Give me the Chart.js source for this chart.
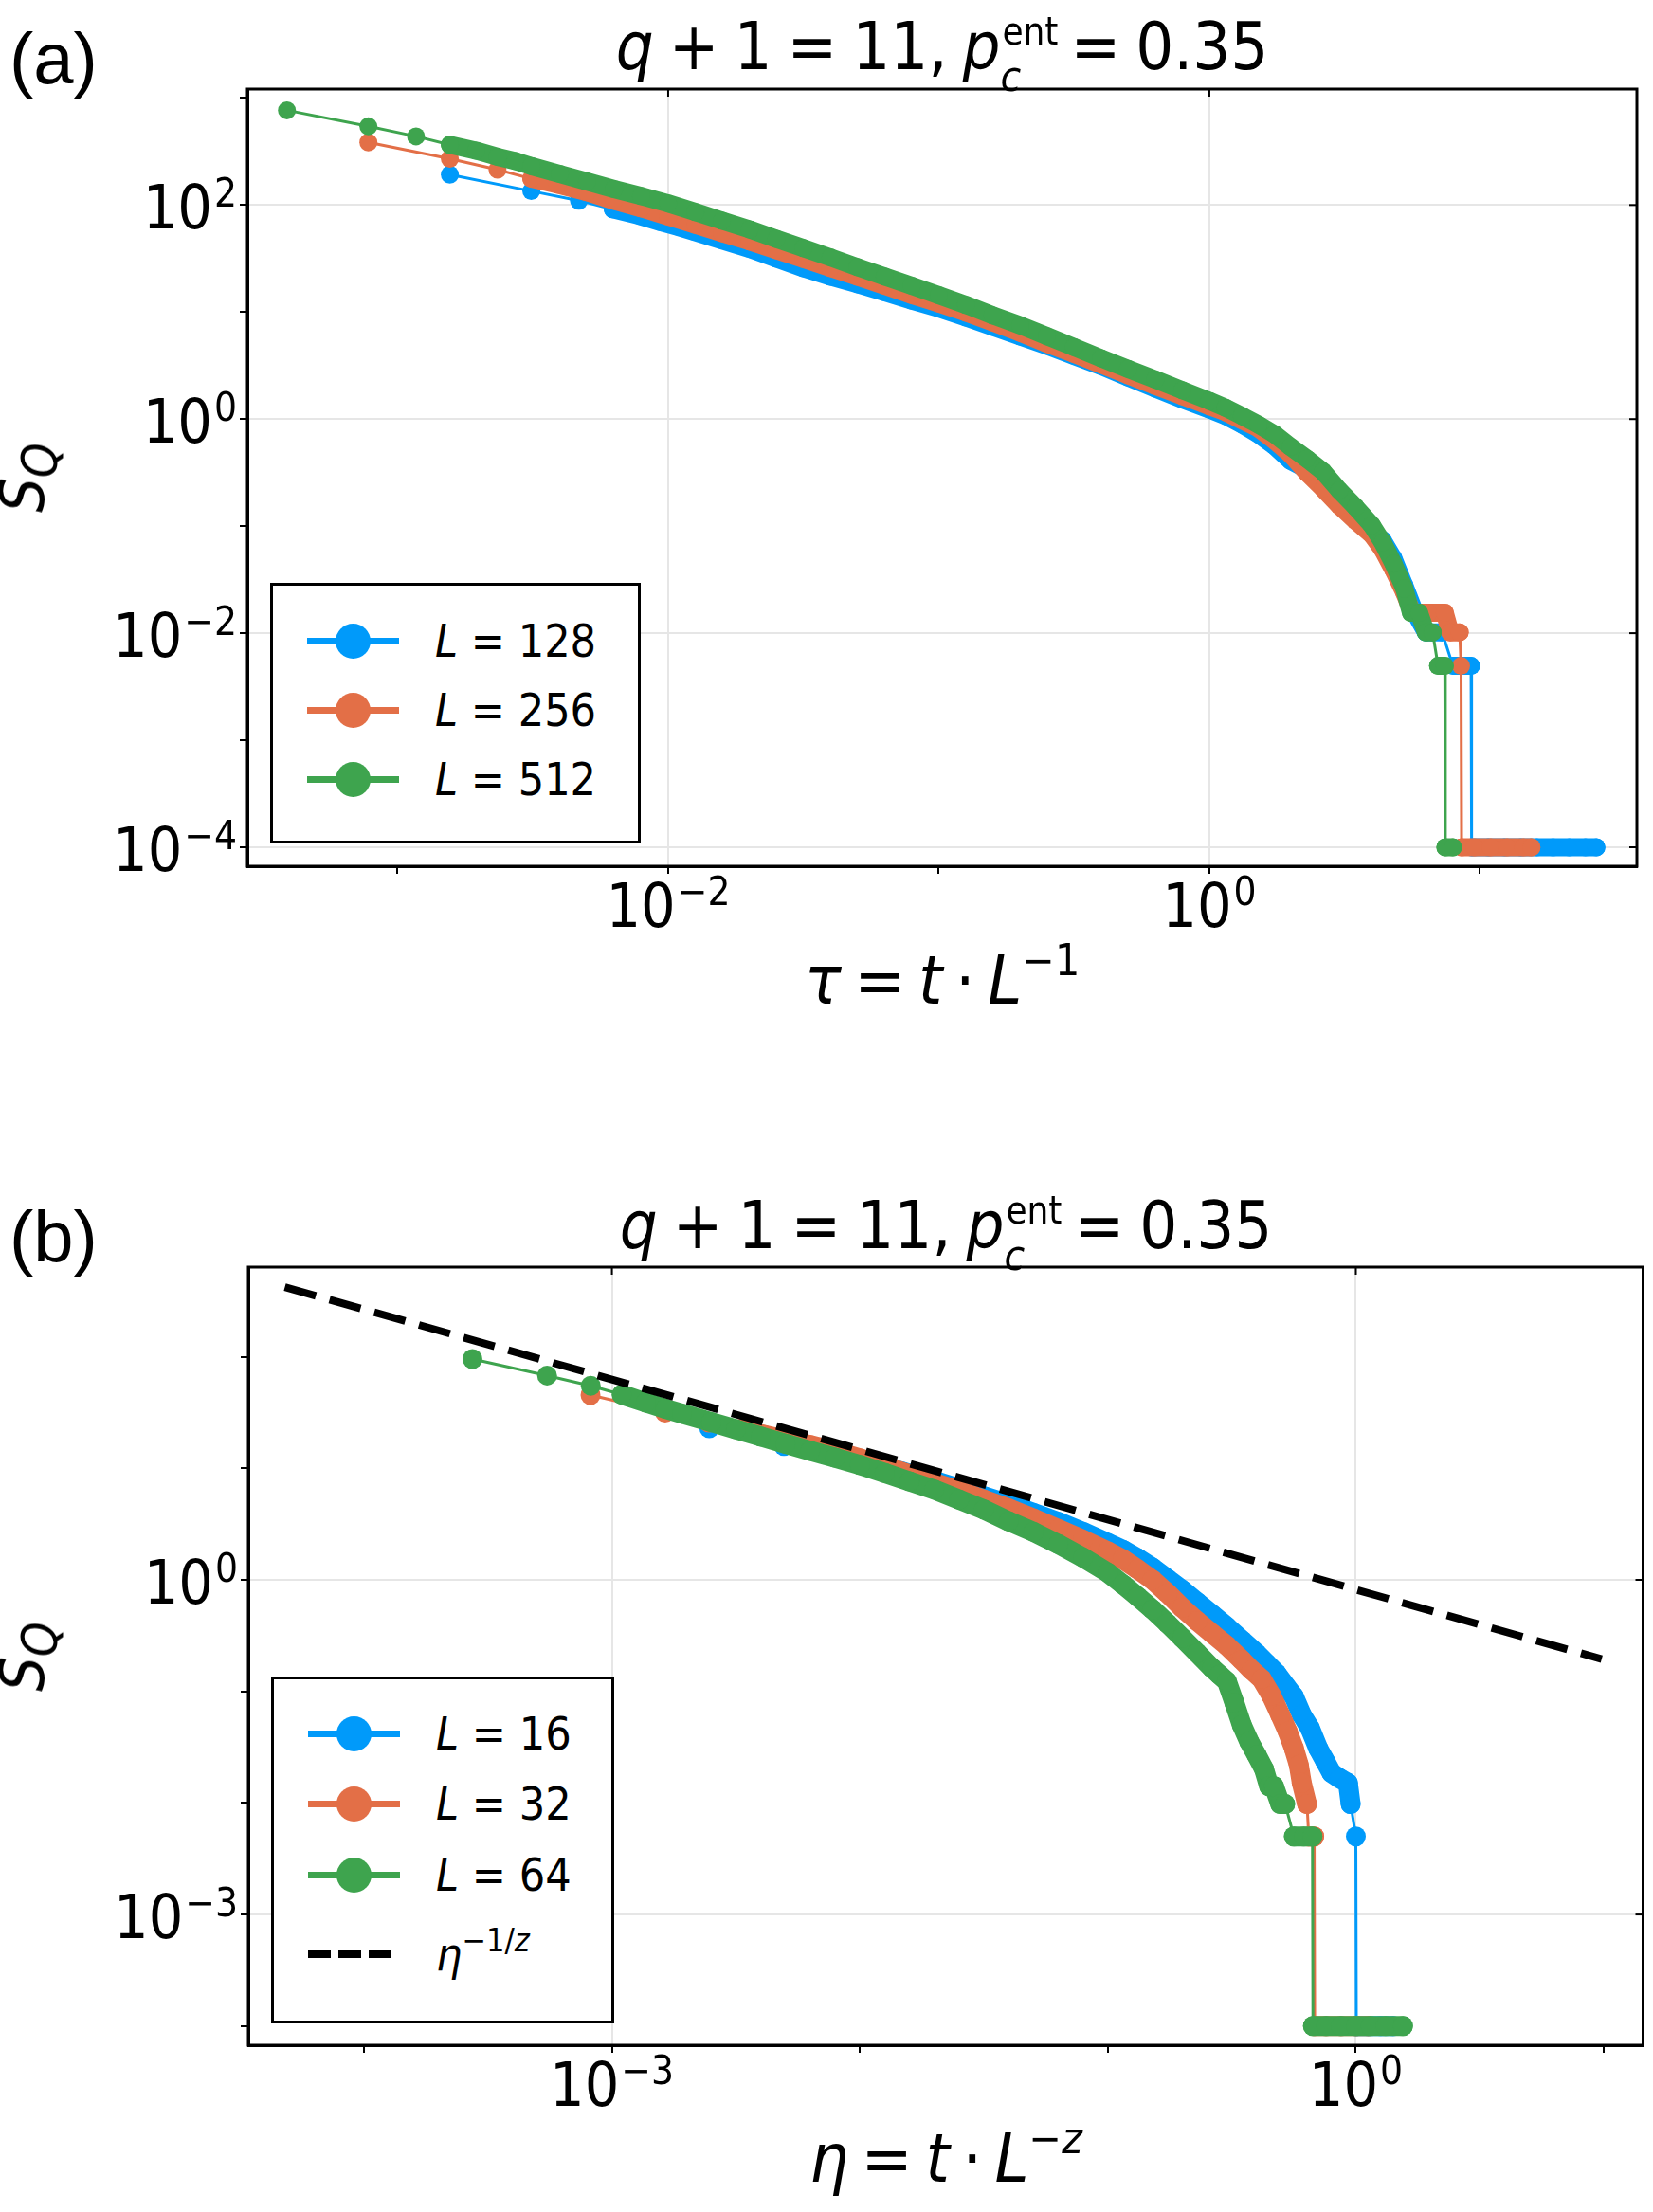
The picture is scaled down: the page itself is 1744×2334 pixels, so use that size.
<!DOCTYPE html>
<html>
<head>
<meta charset="utf-8">
<script src="https://cdn.jsdelivr.net/npm/chart.js@4.4.1/dist/chart.umd.min.js"></script>
<style>
html, body { margin: 0; padding: 0; background: #fff; }
body { position: relative; width: 1744px; height: 2334px; overflow: hidden;
       font-family: "DejaVu Sans Condensed", "DejaVu Sans", sans-serif; color: #000; }
canvas { position: absolute; left: 0; }
#chartA { top: 0; }
#chartB { top: 1117px; }
.t { position: absolute; white-space: nowrap; line-height: 1; }
.panel { font-family: "Liberation Sans", Arial, sans-serif; font-size: 76px; }
.title { font-size: 70px; word-spacing: -4px; transform: translateX(-50%); }
.xlab { font-size: 72px; word-spacing: -7px; transform: translateX(-50%); }
.ylab { font-size: 64px; transform: translate(-50%, -50%) rotate(-90deg); }
.ylab sub { font-size: 52px; vertical-align: -14px; }
.sup { font-size: 46px; position: relative; top: -30px; }
.tk { font-size: 64px; }
.tk .e { font-size: 42px; position: relative; top: -23px; margin-left: 2px; }
.ss { display: inline-block; position: relative; width: 58px; height: 0; }
.ss .up { position: absolute; left: 2px; bottom: 20px; font-size: 40px; }
.ss .dn { position: absolute; left: 0; top: -14px; font-size: 44px; }
.leg { position: absolute; border: 3px solid #000; background: #fff; box-sizing: border-box; }
.item { position: absolute; left: 0; height: 0; }
.item .ln { position: absolute; left: 36px; width: 97px; height: 7px; top: -3.5px; }
.item .dot { position: absolute; left: 66px; width: 37px; height: 37px; top: -18.5px; border-radius: 50%; }
.item .lab { position: absolute; left: 171px; top: -24px; font-size: 48px; line-height: 48px; white-space: nowrap; }
.item .dash { position: absolute; left: 36px; width: 88px; height: 8px; top: -4px;
  background: repeating-linear-gradient(90deg, #000 0 24px, transparent 24px 32px); }
.item .lab .s2 { font-size: 34px; position: relative; top: -20px; }
</style>
</head>
<body>
<canvas id="chartA" width="1744" height="1117"></canvas>
<canvas id="chartB" width="1744" height="1217"></canvas>

<div class="t panel" style="left:10px; top:24px;">(a)</div>
<div class="t title" style="left:994px; top:14px;"><i>q</i> + 1 = 11, <i>p</i><span class="ss"><span class="up">ent</span><span class="dn"><i>c</i></span></span> = 0.35</div>
<div class="t xlab" style="left:994px; top:998px;"><i>τ</i> = <i>t</i> · <i>L</i><span class="sup">−1</span></div>
<div class="t ylab" style="left:30px; top:504px;"><i>S</i><sub><i>Q</i></sub></div>

<div class="t panel" style="left:10px; top:1267px;">(b)</div>
<div class="t title" style="left:998px; top:1258px;"><i>q</i> + 1 = 11, <i>p</i><span class="ss"><span class="up">ent</span><span class="dn"><i>c</i></span></span> = 0.35</div>
<div class="t xlab" style="left:998px; top:2241px;"><i>η</i> = <i>t</i> · <i>L</i><span class="sup">−<i>z</i></span></div>
<div class="t ylab" style="left:30px; top:1748px;"><i>S</i><sub><i>Q</i></sub></div>

<div class="leg" id="legA" style="left:285px; top:615px; width:391px; height:275px;"></div>
<div class="leg" id="legB" style="left:286px; top:1769px; width:362px; height:366px;"></div>

<script>
// ---- panel (a): tau = t * L^-1 ----
const sizesA = [128, 256, 512];

const tauA128 = [1.56e-3, 3.12e-3, 4.68e-3, 6.24e-3, 7.8e-3, 9.36e-3, 0.01092, 0.01248,
  0.0158, 0.02, 0.0251, 0.0316, 0.0398, 0.0501, 0.0631, 0.0794, 0.1, 0.126, 0.158, 0.2,
  0.251, 0.316, 0.398, 0.501, 0.631, 0.794,
  1, 1.148, 1.318, 1.514, 1.738, 1.995,
  2.291, 2.63, 3.02, 3.467, 3.981, 4.365, 4.786, 5.248,
  5.754, 6.31, 7.244, 7.943, 8.71, 9.268, 9.311, 10.72, 12.3, 14.13, 16.22, 18.62, 21.38, 24.55, 26.92];
const sqA128 = [192, 135, 110, 91.2, 79.4, 69.2, 62.2, 56.2,
  46.8, 38.9, 31.6, 25.7, 21.4, 18.2, 15.3, 12.8, 10.8, 8.91, 7.28, 5.93,
  4.84, 3.89, 3.13, 2.455, 1.928, 1.531,
  1.230, 1.072, 0.891, 0.724, 0.562, 0.407,
  0.339, 0.263, 0.186, 0.126, 0.0871, 0.0741, 0.0501, 0.0282,
  0.0155, 0.0102, 0.0102, 0.00495, 0.00495, 0.00495, 1e-4, 1e-4, 1e-4, 1e-4, 1e-4, 1e-4, 1e-4, 1e-4, 1e-4];

const tauA256 = [7.8e-4, 1.56e-3, 2.34e-3, 3.12e-3, 3.9e-3,
  5.01e-3, 6.31e-3, 7.94e-3, 0.01, 0.0126, 0.0158, 0.02, 0.0251, 0.0316, 0.0398, 0.0501,
  0.0631, 0.0794, 0.1, 0.126, 0.158, 0.2, 0.251, 0.316, 0.398, 0.501, 0.631, 0.794,
  1, 1.148, 1.318, 1.514, 1.738, 1.995,
  2.291, 2.63, 3.02, 3.467, 3.981, 4.365, 4.786, 5.248,
  5.623, 6.457, 7.413, 7.762, 8.414, 8.511, 8.551, 9.55, 10.96, 12.59, 14.45, 15.49];
const sqA256 = [384, 271, 214, 176, 155,
  131.8, 109.6, 93.3, 78.0, 65.3, 54.7, 45.7, 37.8, 31.3, 25.8, 21.4,
  17.6, 14.45, 12.02, 9.89, 8.04, 6.40, 5.07, 4.06, 3.24, 2.57, 2.04, 1.64,
  1.318, 1.161, 0.977, 0.822, 0.631, 0.468,
  0.316, 0.224, 0.155, 0.112, 0.0832, 0.0603, 0.0389, 0.024,
  0.0155, 0.0155, 0.0155, 0.0102, 0.0102, 0.00495, 1e-4, 1e-4, 1e-4, 1e-4, 1e-4, 1e-4];

const tauA512 = [3.9e-4, 7.8e-4, 1.17e-3, 1.56e-3, 1.95e-3, 2.34e-3, 2.73e-3, 3.12e-3,
  3.98e-3, 5.01e-3, 6.31e-3, 7.94e-3, 0.01, 0.0126, 0.0158, 0.02, 0.0251, 0.0316, 0.0398, 0.0501,
  0.0631, 0.0794, 0.1, 0.126, 0.158, 0.2, 0.251, 0.316, 0.398, 0.501, 0.631, 0.794,
  1, 1.148, 1.318, 1.514, 1.738, 1.995,
  2.291, 2.63, 3.02, 3.467, 3.981, 4.365, 4.786, 5.248,
  5.559, 5.957, 6.31, 6.683, 6.998, 7.413, 7.447, 7.943];
const sqA512 = [767, 543, 438, 365, 322, 282, 257, 231,
  195, 166, 141, 121.6, 103.5, 86.1, 71.6, 59.3, 48.4, 39.6, 32.4, 26.3,
  21.5, 17.6, 14.35, 11.67, 9.33, 7.53, 5.96, 4.70, 3.70, 2.94, 2.344, 1.862,
  1.479, 1.274, 1.072, 0.891, 0.724, 0.55,
  0.427, 0.324, 0.216, 0.151, 0.102, 0.0708, 0.0447, 0.0263,
  0.0155, 0.0155, 0.0102, 0.0102, 0.00495, 0.00495, 1e-4, 1e-4];

// ---- panel (b): eta = t * L^-z ----
const sizesB = [16, 32, 64];

const etaB16 = [2.47e-3, 4.94e-3, 7.41e-3, 9.88e-3, 0.01235, 0.01482, 0.01729,
  0.01995, 0.02512, 0.03162, 0.03981, 0.05012, 0.0631, 0.07943, 0.1,
  0.1148, 0.1318, 0.1514, 0.1738, 0.1995, 0.2291, 0.263, 0.302, 0.3467, 0.3981, 0.4365, 0.4786,
  0.5248, 0.5623, 0.6053, 0.6531, 0.7047, 0.7499, 0.798, 0.861, 0.929, 0.9528, 1.0, 1.0046,
  1.122, 1.259, 1.413];
const sqB16 = [22.9, 15.85, 13.49, 11.75, 10.47, 9.33, 8.51,
  7.76, 6.61, 5.62, 4.79, 3.98, 3.31, 2.69, 2.14,
  1.862, 1.567, 1.288, 1.023, 0.813, 0.631, 0.49, 0.38, 0.288, 0.219, 0.178, 0.145,
  0.11, 0.0902, 0.0617, 0.0468, 0.0309, 0.024, 0.0186, 0.0166, 0.0151, 0.00977, 0.00501, 1e-4,
  1e-4, 1e-4, 1e-4];

const etaB32 = [8.2e-4, 1.64e-3, 2.46e-3, 3.28e-3, 4.1e-3, 4.92e-3,
  6.31e-3, 7.943e-3, 0.01, 0.01259, 0.01585, 0.01995, 0.02512, 0.03162, 0.03981, 0.05012, 0.0631, 0.07943, 0.1,
  0.1148, 0.1318, 0.1514, 0.1738, 0.1995, 0.2291, 0.263, 0.302, 0.3467, 0.3802, 0.4169, 0.4571,
  0.4955, 0.5309, 0.5623, 0.5888, 0.6053, 0.6353, 0.6457, 0.6792, 0.6823, 0.7586, 0.871, 1, 1.122];
const sqB32 = [45.4, 31.6, 25.7, 22.4, 19.95, 18.2,
  16.2, 14.29, 12.3, 10.47, 8.81, 7.41, 6.31, 5.25, 4.37, 3.55, 2.85, 2.29, 1.80,
  1.531, 1.245, 1.0, 0.759, 0.562, 0.427, 0.331, 0.257, 0.191, 0.155, 0.129, 0.0912,
  0.0617, 0.0437, 0.0309, 0.0219, 0.0151, 0.00977, 0.00501, 0.00501, 1e-4, 1e-4, 1e-4, 1e-4, 1e-4];

const etaB64 = [2.74e-4, 5.48e-4, 8.22e-4, 1.096e-3, 1.37e-3, 1.644e-3, 1.918e-3,
  2.512e-3, 3.162e-3, 3.981e-3, 5.012e-3, 6.31e-3, 7.943e-3, 0.01, 0.01259, 0.01585, 0.01995,
  0.02512, 0.03162, 0.03981, 0.05012, 0.0631, 0.07943,
  0.1, 0.1148, 0.1318, 0.1514, 0.1738, 0.1995, 0.2291, 0.263, 0.2818, 0.302, 0.3236, 0.3467,
  0.3715, 0.3981, 0.4266,
  0.4467, 0.4677, 0.4955, 0.5188, 0.5623, 0.6166, 0.6683, 0.6714, 0.7586, 0.871, 1, 1.148, 1.318, 1.549];
const sqB64 = [95.5, 67.9, 55.0, 45.9, 38.9, 34.2, 30.9,
  26.0, 22.4, 19.3, 16.6, 14.35, 12.45, 10.72, 9.08, 7.64, 6.46,
  5.25, 4.27, 3.35, 2.69, 2.09, 1.585,
  1.161, 0.912, 0.708, 0.543, 0.407, 0.302, 0.221, 0.162, 0.141, 0.123, 0.0794, 0.0501,
  0.0355, 0.0269, 0.02,
  0.0141, 0.0141, 0.00977, 0.00977, 0.00501, 0.00501, 0.00501, 1e-4, 1e-4, 1e-4, 1e-4, 1e-4, 1e-4, 1e-4];

// power law guide eta^(-1/z)
const etaFit = [4.8e-5, 9.8];
const sqFit = [422, 0.195];

// ---- axis ticks (labelled decades + unlabelled minor decades) ----
const xMajorA = [1e-2, 1], xExpA = ['−2', '0'], xMinorA = [1e-3, 1e-1, 10];
const yMajorA = [1e-4, 1e-2, 1, 1e2], yExpA = ['−4', '−2', '0', '2'], yMinorA = [1e-3, 1e-1, 10, 1e3];
const xMajorB = [1e-3, 1], xExpB = ['−3', '0'], xMinorB = [1e-4, 1e-2, 1e-1, 10];
const yMajorB = [1e-3, 1], yExpB = ['−3', '0'], yMinorB = [1e-4, 1e-2, 1e-1, 10, 100];

const BLUE = '#009AFA', ORANGE = '#E36F47', GREEN = '#3EA44E';
const COLORS = [BLUE, ORANGE, GREEN];

function pts(xs, ys) {
  return xs.map((x, i) => ({ x: x, y: ys[i] }));
}

function near(a, b) { return Math.abs(Math.log10(a) - Math.log10(b)) < 1e-6; }

function series(xs, ys, color, order, radius) {
  return {
    data: pts(xs, ys),
    borderColor: color,
    backgroundColor: color,
    pointBackgroundColor: color,
    pointBorderColor: color,
    pointBorderWidth: 0,
    pointRadius: radius,
    pointHoverRadius: radius,
    borderWidth: 3,
    borderJoinStyle: 'round',
    borderCapStyle: 'round',
    order: order,
    // markers closer together than their size merge into a band
    segment: {
      borderWidth: ctx => Math.hypot(ctx.p1.x - ctx.p0.x, ctx.p1.y - ctx.p0.y) < 33 ? radius * 2 : 3
    }
  };
}

function logAxis(min, max, major, minor, isX, size) {
  const all = major.concat(minor).sort((a, b) => a - b);
  return {
    type: 'logarithmic',
    min: min, max: max,
    afterBuildTicks: s => { s.ticks = all.map(v => ({ value: v })); },
    afterFit: s => { if (isX) s.height = size; else s.width = size; },
    ticks: { autoSkip: false, maxRotation: 0, minRotation: 0, callback: () => '' },
    grid: {
      color: c => major.some(m => near(m, c.tick.value)) ? '#e6e6e6' : 'rgba(0,0,0,0)',
      lineWidth: 2,
      tickColor: '#000',
      tickLength: 8,
      drawTicks: true
    },
    border: { display: true, color: '#000', width: 3 }
  };
}

// closing frame plus short inward ticks on the top and right edges
const framePlugin = {
  id: 'frame',
  afterDatasetsDraw(chart, args, opts) {
    const { ctx, chartArea: a, scales } = chart;
    ctx.save();
    ctx.strokeStyle = '#000';
    ctx.lineWidth = 3;
    ctx.strokeRect(a.left, a.top, a.right - a.left, a.bottom - a.top);
    ctx.lineWidth = 2;
    opts.yMajor.forEach(v => {
      const y = scales.y.getPixelForValue(v);
      ctx.beginPath(); ctx.moveTo(a.right, y); ctx.lineTo(a.right - 8, y); ctx.stroke();
    });
    opts.xMajor.forEach(v => {
      const x = scales.x.getPixelForValue(v);
      ctx.beginPath(); ctx.moveTo(x, a.top); ctx.lineTo(x, a.top + 8); ctx.stroke();
    });
    ctx.restore();
  }
};

function makeChart(id, datasets, pad, xAxis, yAxis, xMajor, yMajor) {
  return new Chart(document.getElementById(id), {
    type: 'line',
    data: { datasets: datasets },
    options: {
      responsive: false,
      animation: false,
      devicePixelRatio: 1,
      layout: { padding: pad },
      plugins: {
        legend: { display: false },
        tooltip: { enabled: false },
        frame: { xMajor: xMajor, yMajor: yMajor }
      },
      scales: { x: xAxis, y: yAxis }
    },
    plugins: [framePlugin]
  });
}

// tick labels as text placed from the chart's own scales
function tickLabels(chart, top, axis, vals, exps) {
  const s = chart.scales[axis], a = chart.chartArea;
  vals.forEach((v, i) => {
    const d = document.createElement('div');
    d.className = 't tk';
    d.innerHTML = '10<span class="e">' + exps[i] + '</span>';
    if (axis === 'x') {
      d.style.left = s.getPixelForValue(v) + 'px';
      d.style.top = (top + a.bottom + 10) + 'px';
      d.style.transform = 'translateX(-50%)';
    } else {
      d.style.right = (1744 - a.left + 11) + 'px';
      d.style.top = (top + s.getPixelForValue(v) - 29) + 'px';
    }
    document.body.appendChild(d);
  });
}

const chartA = makeChart('chartA', [
  series(tauA128, sqA128, BLUE, 3, 9.5),
  series(tauA256, sqA256, ORANGE, 2, 9.5),
  series(tauA512, sqA512, GREEN, 1, 9.5)
], { left: 0, right: 17, top: 94, bottom: 103 },
  logAxis(2.786e-4, 38.0, xMajorA, xMinorA, true, 100),
  logAxis(6.65e-5, 1211, yMajorA, yMinorA, false, 261), xMajorA, yMajorA);

const chartB = makeChart('chartB', [
  {
    data: pts(etaFit, sqFit), borderColor: '#000', borderWidth: 8, borderDash: [34, 15],
    pointRadius: 0, order: 0
  },
  series(etaB16, sqB16, BLUE, 3, 10.5),
  series(etaB32, sqB32, ORANGE, 2, 10.5),
  series(etaB64, sqB64, GREEN, 1, 10.5)
], { left: 0, right: 9, top: 220, bottom: 76 },
  logAxis(3.42e-5, 14.39, xMajorB, xMinorB, true, 100),
  logAxis(6.73e-5, 637, yMajorB, yMinorB, false, 262), xMajorB, yMajorB);

tickLabels(chartA, 0, 'x', xMajorA, xExpA);
tickLabels(chartA, 0, 'y', yMajorA, yExpA);
tickLabels(chartB, 1117, 'x', xMajorB, xExpB);
tickLabels(chartB, 1117, 'y', yMajorB, yExpB);

// legends
function legend(id, sizes, rows, withFit) {
  const box = document.getElementById(id);
  sizes.forEach((n, i) => {
    const d = document.createElement('div');
    d.className = 'item';
    d.style.top = rows[i] + 'px';
    d.innerHTML = '<span class="ln" style="background:' + COLORS[i] + '"></span>' +
      '<span class="dot" style="background:' + COLORS[i] + '"></span>' +
      '<span class="lab"><i>L</i> = ' + n + '</span>';
    box.appendChild(d);
  });
  if (withFit) {
    const d = document.createElement('div');
    d.className = 'item';
    d.style.top = rows[sizes.length] + 'px';
    d.innerHTML = '<span class="dash"></span><span class="lab"><i>η</i><span class="s2">−1/<i>z</i></span></span>';
    box.appendChild(d);
  }
}
legend('legA', sizesA, [58, 131, 204], false);
legend('legB', sizesB, [57, 131, 206, 290], true);
</script>
</body>
</html>
